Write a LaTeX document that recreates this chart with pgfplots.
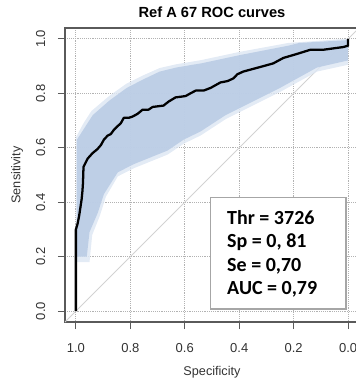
\documentclass[border=0pt]{standalone}
\usepackage{pgfplots}
\pgfplotsset{compat=1.18}
\usepackage{fontspec}
\setmainfont{Liberation Sans}
\newfontfamily\calibri{Carlito}
\definecolor{band}{RGB}{186,204,229}
\definecolor{bandsoft}{RGB}{222,231,243}
\definecolor{boxgray}{RGB}{90,90,90}
\begin{document}
\begin{tikzpicture}
\begin{axis}[
  name=ax,
  scale only axis,
  width=220.5pt, height=220.5pt,
  x dir=reverse,
  xmin=-0.04, xmax=1.04, ymin=-0.04, ymax=1.04,
  xtick={0,0.2,0.4,0.6,0.8,1.0},
  ytick={0,0.2,0.4,0.6,0.8,1.0},
  xticklabels={0.0,0.2,0.4,0.6,0.8,1.0},
  yticklabels={0.0,0.2,0.4,0.6,0.8,1.0},
  tick pos=left,
  tick align=outside,
  major tick length=5.25pt,
  tick style={boxgray, line width=0.8pt},
  axis line style={boxgray, line width=0.8pt},
  grid=major,
  major grid style={densely dotted, gray!60, line width=0.7pt},
  /pgf/number format/assume math mode=true,
  tick label style={font=\fontsize{9.75}{11}\selectfont, text=black!80},
  xticklabel shift=7.5pt,
  yticklabel style={rotate=90, anchor=south},
  yticklabel shift=6pt,
  xlabel={Specificity},
  ylabel={Sensitivity},
  label style={font=\fontsize{9.5}{11}\selectfont, text=black!80},
  xlabel style={at={(axis description cs:0.5,-0.170)}, anchor=center},
  ylabel style={at={(axis description cs:-0.163,0.5)}, anchor=center},
  clip=true,
]
% diagonal
\addplot[gray!35, line width=0.7pt] coordinates {(1.04,-0.04) (-0.04,1.04)};
% soft outer edge of the confidence band
\addplot[fill=bandsoft, draw=none, fill opacity=0.85] coordinates {
(1.0,0.18) (0.999,0.64) (0.972,0.69) (0.943,0.735) (0.878,0.79) (0.815,0.835)
(0.755,0.865) (0.692,0.893) (0.63,0.907) (0.54,0.922) (0.40,0.952)
(0.22,0.985) (0.01,1.0) (0.0,1.0)
(0.0,0.905) (0.114,0.88) (0.25,0.805) (0.35,0.755) (0.45,0.705)
(0.542,0.645) (0.604,0.615) (0.663,0.575) (0.725,0.55) (0.787,0.525) (0.846,0.495)
(0.89,0.42) (0.912,0.35) (0.94,0.28) (0.95,0.18)
} -- cycle;
% confidence band
\addplot[fill=band, draw=none, fill opacity=0.9] coordinates {
(0.996,0.20) (0.996,0.63) (0.967,0.675) (0.938,0.72) (0.875,0.775) (0.813,0.82)
(0.755,0.85) (0.692,0.88) (0.63,0.895) (0.571,0.905) (0.54,0.91) (0.40,0.94)
(0.22,0.975) (0.18,0.985) (0.01,0.995) (0.0,1.0)
(0.0,0.92) (0.004,0.92) (0.114,0.895) (0.25,0.82) (0.35,0.77) (0.45,0.72)
(0.542,0.66) (0.604,0.63) (0.663,0.59) (0.725,0.565) (0.787,0.54) (0.846,0.51)
(0.897,0.43) (0.92,0.36) (0.95,0.29) (0.96,0.20)
} -- cycle;
% ROC curve
\addplot[black, line width=1.7pt, line join=round] coordinates {
(1.0,0.0) (1.0,0.30) (0.994,0.32) (0.988,0.35) (0.979,0.41) (0.976,0.44)
(0.974,0.47) (0.972,0.53) (0.967,0.54) (0.957,0.56) (0.939,0.58) (0.921,0.595)
(0.908,0.61) (0.897,0.63) (0.883,0.645) (0.872,0.65) (0.861,0.665) (0.846,0.68)
(0.835,0.69) (0.824,0.71) (0.806,0.71) (0.791,0.715) (0.773,0.725) (0.755,0.74)
(0.733,0.74) (0.718,0.75) (0.678,0.755) (0.659,0.77) (0.634,0.785) (0.597,0.79)
(0.579,0.80) (0.560,0.81) (0.531,0.81) (0.505,0.82) (0.469,0.84) (0.443,0.845)
(0.421,0.855) (0.407,0.87) (0.385,0.88) (0.348,0.89) (0.311,0.90) (0.275,0.91)
(0.238,0.93) (0.187,0.945) (0.139,0.96) (0.092,0.96) (0.055,0.965) (0.018,0.97)
(0.0,0.975) (0.0,1.0)
};
% annotation box
\draw[gray!70, line width=1.1pt, fill=white] (axis cs:0.505,0.007) rectangle (axis cs:0.007,0.418);
\node[anchor=west, align=left, font=\calibri\bfseries\fontsize{15}{17.5}\selectfont, inner sep=0pt]
  at (axis cs:0.445,0.211) {Thr = 3726\\Sp = 0, 81\\Se = 0,70\\AUC = 0,79};
\end{axis}
\node[font=\fontsize{11}{13}\selectfont\bfseries, anchor=center]
  at ([yshift=12pt]ax.north) {Ref A 67 ROC curves};
\pgfresetboundingbox
\useasboundingbox (-48.75pt,-45.75pt) rectangle (217.5pt,241.5pt);
\end{tikzpicture}
\end{document}
